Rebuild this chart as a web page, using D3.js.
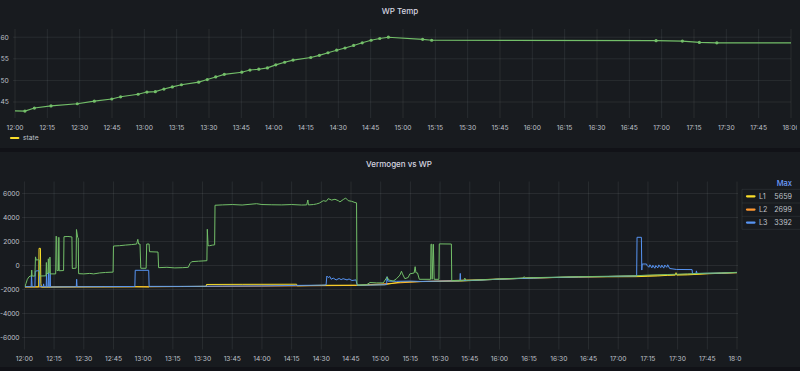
<!DOCTYPE html>
<html><head><meta charset="utf-8">
<script src="https://cdn.jsdelivr.net/npm/d3@7"></script>
<style>
html,body{margin:0;padding:0;background:#111217;}
svg{display:block;font-family:Inter,"Noto Sans",sans-serif;}
</style></head><body>
<svg id="c" width="800" height="371"></svg>
<script>
// ---------- DATA ----------
const topTitle = "WP Temp";
const bottomTitle = "Vermogen vs WP";
const topLegend = ["state"];
const topYTicks = [45, 50, 55, 60];
const bottomYTicks = [-6000, -4000, -2000, 0, 2000, 4000, 6000];
const legendNames = ["L1", "L2", "L3"];
const legendMax = [5659, 2699, 3392];
const legendHeader = "Max";

// minutes after 12:00
const tempMinutes = [-6, 4.6, 9.0, 16.7, 28.9, 36.8, 44.9, 49.0, 57.1, 61.2, 65.1, 69.1, 73.0, 77.2, 85.2, 89.2, 93.1, 97.1, 105.2, 109.0, 113.1, 117.1, 121.0, 125.1, 129.0, 137.2, 141.2, 145.2, 149.2, 153.1, 157.1, 161.1, 165.2, 169.2, 173.2, 189.1, 193.3, 297.4, 309.6, 317.5, 325.6, 372];
const tempValues  = [43.0, 42.9, 43.6, 44.1, 44.6, 45.2, 45.7, 46.2, 46.8, 47.3, 47.4, 48.0, 48.5, 49.0, 49.6, 50.2, 50.8, 51.4, 51.9, 52.4, 52.6, 52.9, 53.6, 54.2, 54.7, 55.3, 55.8, 56.4, 57.0, 57.5, 58.1, 58.7, 59.3, 59.7, 60.0, 59.5, 59.3, 59.2, 59.1, 58.8, 58.7, 58.7];

// [minute, watt]
const wpSeries = [[0.3,-1760],[0.8,-1500],[1.5,-1150],[2.3,-950],[2.9,-880],[3.5,-900],[3.7,-380],[3.9,-880],[5.3,-880],[5.6,720],[6.0,450],[7.0,480],[7.6,460],[7.8,-880],[10.9,-860],[11.1,250],[11.3,-700],[11.9,-650],[12.1,560],[12.3,-600],[12.8,-600],[12.9,700],[13.1,-700],[15.8,-700],[16.0,2450],[16.3,2400],[16.5,-420],[17.2,-420],[17.4,2350],[17.6,-440],[19.8,-420],[20.0,2400],[22,2420],[24.0,2380],[24.2,-250],[26.1,-220],[26.3,3000],[26.9,2350],[27.2,2300],[27.4,-680],[30,-700],[33,-660],[35,-700],[38,-620],[41,-580],[44.8,-550],[45.0,1620],[48,1650],[51,1700],[54,1740],[56.7,1790],[57.3,2180],[57.7,1790],[58.4,1790],[58.8,-230],[61.5,-230],[61.8,1790],[63.0,1790],[63.2,1150],[67.5,1120],[67.8,-180],[72,-150],[76,-200],[80,-180],[82.8,-150],[83.6,150],[84.5,317],[88,360],[92.2,400],[92.4,3020],[92.8,1650],[93.5,1650],[95,1700],[96.1,1720],[96.3,5020],[100,5050],[105,5080],[110,5040],[117.3,5150],[120,5080],[125,5060],[130,5050],[135,5080],[140,5040],[142.6,5050],[143.2,5460],[143.5,5050],[146,5080],[147.6,5130],[149,5200],[151,5400],[152.5,5350],[153.5,5570],[155.2,5450],[156.9,5520],[158.6,5400],[159.4,5300],[161.1,5500],[162.3,5620],[163.6,5400],[165.3,5350],[167.0,5250],[167.8,5220],[168.0,-1480],[168.5,-1625],[172.9,-1600],[174.6,-1420],[178,-1450],[181.3,-1450],[183.3,-950],[184.0,-1200],[186.3,-1300],[188.0,-1100],[189.7,-800],[190.5,-480],[191.0,-700],[192.2,-1100],[193.9,-1000],[194.7,-700],[196.9,-620],[197.4,-100],[197.8,-600],[198.6,-620],[199.5,-1150],[205.2,-1150],[205.4,1770],[205.8,1770],[206.0,-1150],[206.6,1770],[207.0,-1150],[209.4,-1150],[209.6,1800],[215.7,1790],[215.9,-1250],[222,-1240],[222.5,-1050],[223,-1230],[230,-1200],[240,-1120],[252,-1040],[252.5,-930],[253,-1030],[265,-985],[280,-935],[295,-895],[309,-855],[315,-800],[325,-750],[335,-700],[345,-640],[352,-620],[360,-570]];

const l1Series = [[0.3,-1780],[7.2,-1780],[7.4,1430],[8.1,1430],[8.3,-1500],[8.6,-1800],[26,-1780],[55.8,-1770],[62.8,-1790],[63,-1760],[91.8,-1740],[92.0,-1580],[110,-1570],[137.5,-1560],[137.8,-1690],[150,-1650],[167.8,-1640],[168.3,-1660],[175,-1620],[182,-1600],[190,-1380],[200,-1340],[220,-1300],[240,-1140],[257,-1040],[280,-950],[309,-930],[315,-900],[320,-870],[325,-820],[328.8,-800],[329.2,-600],[329.6,-800],[335,-780],[345,-690],[352,-650],[360,-600]];

const l2Series = [[0.3,-1790],[60,-1770],[120,-1720],[168,-1660],[200,-1340],[257,-1040],[309,-870],[360,-590]];

const l3Series = [[0.3,-1760],[3.4,-1760],[3.6,-800],[3.9,-1760],[5.3,-1760],[5.5,-480],[6.5,-440],[7.6,-450],[7.8,-1760],[9.5,-1760],[9.7,-1530],[9.9,-1780],[11.0,-1780],[11.2,-620],[11.4,-1780],[12.0,-1780],[12.2,-560],[12.4,-1780],[12.8,-1780],[13.0,-650],[13.2,-1790],[26.2,-1770],[26.4,-1150],[26.6,-1770],[40,-1760],[55.8,-1750],[56.0,-400],[62.8,-400],[63.0,-1740],[80,-1740],[100,-1720],[120,-1700],[137,-1660],[150,-1640],[152.4,-1620],[152.8,-880],[153.5,-1000],[154.3,-920],[155,-1150],[156,-1050],[157.5,-1200],[159,-1080],[160,-1180],[161,-1100],[163,-1200],[164,-1120],[165.5,-1250],[167.5,-1200],[168.1,-1640],[175,-1630],[183,-1600],[183.2,-930],[183.6,-1300],[188,-1320],[195,-1300],[200,-1330],[210,-1300],[220,-1280],[220.2,-660],[220.4,-1270],[230,-1220],[240,-1140],[257,-1050],[265,-1005],[280,-955],[295,-915],[309.3,-870],[309.5,2350],[311.7,2350],[311.9,-380],[312.1,125],[314.3,125],[314.5,20],[315.5,-150],[316,60],[317,-200],[317.5,20],[318.5,-230],[319,0],[320,-200],[320.5,50],[321.5,-180],[322,30],[323,-220],[323.5,40],[324.5,-150],[325,60],[326,-250],[329.4,-330],[337.3,-340],[337.5,-680],[339.3,-660],[339.5,-450],[339.8,-660],[345,-650],[352,-630],[360,-585]];

const colors = {green:"#73BF69", L1:"#FADE2A", L2:"#FF9830", L3:"#5794F2"};

// ---------- SETUP ----------
const base = new Date(2023,0,1,12,0,0);
const toDate = m => new Date(base.getTime() + m*60000);
const svg = d3.select("#c");
const gridColor = "rgba(240,250,255,0.075)";
const tickColor = "#bfc0c8";
const titleColor = "#d6d6e0";
const fmt = d3.timeFormat("%H:%M");
const tickFont = 6.7;

// panels
svg.append("rect").attr("x",0).attr("y",0).attr("width",800).attr("height",148).attr("fill","#181b1f");
svg.append("rect").attr("x",0).attr("y",152).attr("width",800).attr("height",215).attr("fill","#181b1f");

const defs = svg.append("defs");
function clip(id,x,y,w,h){defs.append("clipPath").attr("id",id).append("rect").attr("x",x).attr("y",y).attr("width",w).attr("height",h);}

// ---------- TOP PANEL ----------
const xT = d3.scaleTime().domain([toDate(0), toDate(360)]).range([15, 791]);
const yT = d3.scaleLinear().domain([41.3, 61.9]).range([118, 29]);
clip("cpTop", 15, 29, 776, 89);
clip("cpTopTxt", 0, 0, 797, 148);
clip("cpBot", 24.4, 181.5, 712.6, 168);
clip("cpBotTxt", 0, 152, 741.5, 215);

const timeTicks = xT.ticks(d3.timeMinute.every(15));

const gT = svg.append("g");
gT.selectAll("line.v").data(timeTicks).join("line")
  .attr("x1",d=>xT(d)).attr("x2",d=>xT(d)).attr("y1",29).attr("y2",118)
  .attr("stroke",gridColor).attr("stroke-width",1);
gT.selectAll("line.h").data(topYTicks).join("line")
  .attr("x1",13).attr("x2",791).attr("y1",d=>yT(d)).attr("y2",d=>yT(d))
  .attr("stroke",gridColor).attr("stroke-width",1);
gT.append("g").attr("clip-path","url(#cpTopTxt)")
  .selectAll("text").data(timeTicks).join("text")
  .attr("x",d=>xT(d)).attr("y",129.5).attr("text-anchor","middle")
  .attr("font-size",tickFont).attr("fill",tickColor).text(d=>fmt(d));
gT.selectAll("text.y").data(topYTicks).join("text")
  .attr("x",8.8).attr("y",d=>yT(d)).attr("dy","0.35em").attr("text-anchor","end")
  .attr("font-size",tickFont).attr("fill",tickColor).text(d=>d);
svg.append("text").attr("x",400).attr("y",14).attr("text-anchor","middle")
  .attr("font-size",8).attr("font-weight",500).attr("fill",titleColor).text(topTitle);

const tempData = tempMinutes.map((m,i)=>({t:toDate(m), v:tempValues[i]}));
const lineT = d3.line().x(d=>xT(d.t)).y(d=>yT(d.v));
const gTd = svg.append("g").attr("clip-path","url(#cpTop)");
gTd.append("path").datum(tempData).attr("d",lineT).attr("fill","none")
  .attr("stroke",colors.green).attr("stroke-width",1.1);
gTd.selectAll("circle").data(tempData.filter(d=>d.t>=toDate(0)&&d.t<=toDate(360))).join("circle")
  .attr("cx",d=>xT(d.t)).attr("cy",d=>yT(d.v)).attr("r",1.6).attr("fill",colors.green);

// top legend
svg.append("line").attr("x1",11).attr("x2",18.3).attr("y1",138).attr("y2",138)
  .attr("stroke",colors.L1).attr("stroke-width",2.2).attr("stroke-linecap","round");
svg.append("text").attr("x",23).attr("y",138).attr("dy","0.35em")
  .attr("font-size",tickFont).attr("fill",tickColor).text(topLegend[0]);

// ---------- BOTTOM PANEL ----------
const xB = d3.scaleTime().domain([toDate(0), toDate(360)]).range([24.4, 737]);
const yB = d3.scaleLinear().domain([-7000, 7000]).range([349.5, 181.5]);
const gB = svg.append("g");
gB.selectAll("line.v").data(timeTicks).join("line")
  .attr("x1",d=>xB(d)).attr("x2",d=>xB(d)).attr("y1",181.5).attr("y2",349.5)
  .attr("stroke",gridColor);
gB.selectAll("line.h").data(bottomYTicks).join("line")
  .attr("x1",22).attr("x2",738).attr("y1",d=>yB(d)).attr("y2",d=>yB(d))
  .attr("stroke",gridColor);
gB.append("g").attr("clip-path","url(#cpBotTxt)")
  .selectAll("text").data(timeTicks).join("text")
  .attr("x",d=>xB(d)).attr("y",360.8).attr("text-anchor","middle")
  .attr("font-size",tickFont).attr("fill",tickColor).text(d=>fmt(d));
gB.selectAll("text.y").data(bottomYTicks).join("text")
  .attr("x",19.5).attr("y",d=>yB(d)).attr("dy","0.35em").attr("text-anchor","end")
  .attr("font-size",tickFont).attr("letter-spacing",-0.1).attr("fill",tickColor).text(d=>d);
svg.append("text").attr("x",399).attr("y",167).attr("text-anchor","middle")
  .attr("font-size",8).attr("font-weight",500).attr("fill",titleColor).text(bottomTitle);

const lineB = d3.line().x(d=>xB(toDate(d[0]))).y(d=>yB(d[1]));
const gBd = svg.append("g").attr("clip-path","url(#cpBot)");
[[l2Series,colors.L2],[l1Series,colors.L1],[l3Series,colors.L3],[wpSeries,colors.green]].forEach(([s,c])=>{
  gBd.append("path").datum(s).attr("d",lineB).attr("fill","none")
    .attr("stroke",c).attr("stroke-width",1).attr("stroke-linejoin","round");
});

// legend table
const lg = svg.append("g");
const rowY = [196.3, 209.6, 222.6];
const sepY = [189.3, 203, 216.3, 229.3];
lg.selectAll("line.sep").data(sepY).join("line")
  .attr("x1",742).attr("x2",800).attr("y1",d=>d).attr("y2",d=>d)
  .attr("stroke","rgba(240,250,255,0.07)");
lg.append("line").attr("x1",742).attr("x2",742).attr("y1",189.3).attr("y2",229.3)
  .attr("stroke","rgba(240,250,255,0.07)");
lg.append("text").attr("x",792).attr("y",183.5).attr("dy","0.35em").attr("text-anchor","end")
  .attr("font-size",7.5).attr("font-weight",500).attr("fill","#6e9fff").text(legendHeader);
const legColors = [colors.L1, colors.L2, colors.L3];
legendNames.forEach((n,i)=>{
  lg.append("line").attr("x1",747).attr("x2",754.5).attr("y1",rowY[i]).attr("y2",rowY[i])
    .attr("stroke",legColors[i]).attr("stroke-width",2.2).attr("stroke-linecap","round");
  lg.append("text").attr("x",759).attr("y",rowY[i]).attr("dy","0.35em")
    .attr("font-size",7.2).attr("fill",tickColor).text(n);
  lg.append("text").attr("x",792).attr("y",rowY[i]).attr("dy","0.35em").attr("text-anchor","end")
    .attr("font-size",7.2).attr("fill",tickColor).text(legendMax[i]);
});
</script></body></html>
